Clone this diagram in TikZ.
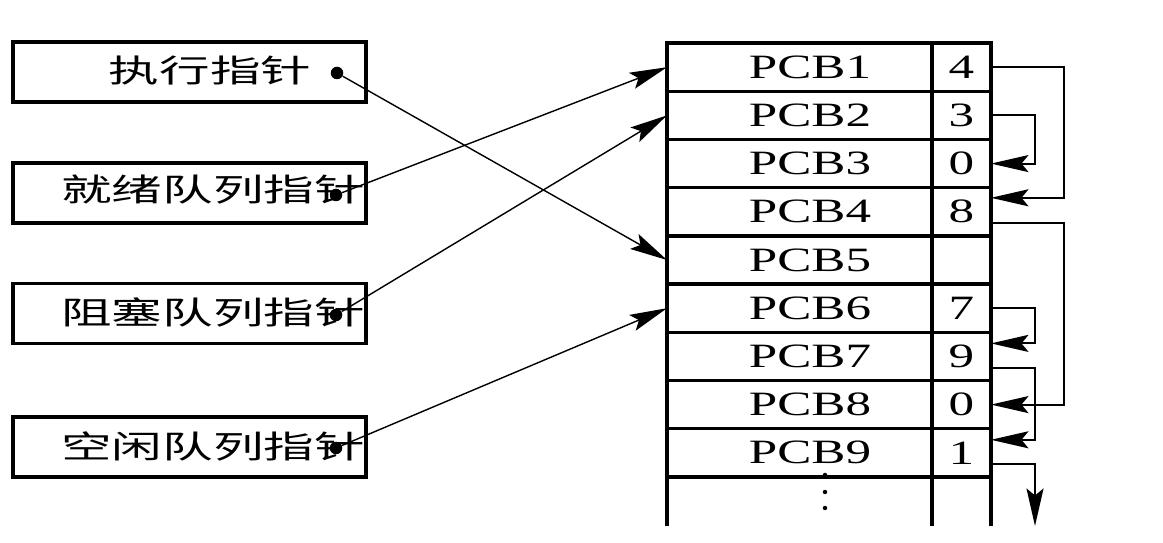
\documentclass[tikz,border=0pt]{standalone}
\usepackage{fontspec}
\newfontfamily\cjk[FakeStretch=1.6]{Noto Sans CJK SC}
\newfontfamily\pcbfont[FakeStretch=1.5]{Liberation Serif}
\usetikzlibrary{positioning,arrows.meta}
\tikzset{%
  ptrbox/.style  = {shape=rectangle, draw, line width=2pt, inner sep=0pt,%
                    minimum width=7.06cm, minimum height=1.2cm},%
  ptrtext/.style = {inner sep=0pt, font=\cjk\fontsize{18pt}{20pt}\selectfont},%
  dot/.style     = {circle, fill, inner sep=0pt, minimum size=0.25cm},%
  cell/.style    = {shape=rectangle, draw, line width=2pt, inner sep=0pt,%
                    outer sep=0pt, minimum height=0.964cm,%
                    font=\pcbfont\fontsize{19.4pt}{20pt}\selectfont},%
  pcb/.style     = {cell, minimum width=5.3cm,%
                    execute at begin node=\hspace*{0.42cm}},%
  val/.style     = {cell, minimum width=1.18cm},%
  tip/.style     = {-{Stealth[length=0.75cm, width=0.34cm, inset=0.14cm]}},%
  ptr/.style     = {tip, line width=0.8pt},%
  link/.style    = {tip, line width=1.1pt}%
}
\begin{document}
\begin{tikzpicture}[x=0.02cm, y=-0.02cm]
	\useasboundingbox (0,0) rectangle (1163,543);
	% pointer boxes
	\node [ptrtext] (t1) at (210,71) {执行指针};
	\node [ptrtext] (t2) at (213,190) {就绪队列指针};
	\node [ptrtext] (t3) at (213,312) {阻塞队列指针};
	\node [ptrtext] (t4) at (213,446) {空闲队列指针};
	\node [ptrbox] (b1) at (189.5,72) {};
	\node [ptrbox] (b2) at (189.5,193) {};
	\node [ptrbox] (b3) at (189.5,313.5) {};
	\node [ptrbox] (b4) at (189.5,447) {};
	\node [dot] (d1) at (337,73) {};
	\node [dot] (d2) at (336,195) {};
	\node [dot] (d3) at (336,315) {};
	\node [dot] (d4) at (336,448) {};
	% PCB table
	\foreach \i/\v in {1/4,2/3,3/0,4/8,5/,6/7,7/9,8/0,9/1}{
		\node [pcb] (p\i) at (799.5,{19+48.2*\i}) {PCB\i};
		\node [val, right=0pt of p\i] (v\i) {\v};
	}
	\draw [line width=2pt] (p9.south west) -- ++(0,49);
	\draw [line width=2pt] (p9.south east) -- ++(0,49);
	\draw [line width=2pt] (v9.south east) -- ++(0,49);
	\foreach \y in {475,492,508}
		\fill (825,\y) circle [radius=0.045cm];
	% pointers
	\draw [ptr] (d1) -- (p5.west);
	\draw [ptr] (d2) -- (p1.west);
	\draw [ptr] (d3) -- (p2.west);
	\draw [ptr] (d4) -- (p6.west);
	% links
	\coordinate (nxt) at (1035,526);
	\draw [link] (v1.east) -- ++(73,0) |- ([yshift=0.28cm]v4.east);
	\draw [link] (v2.east) -- ++(44,0) |- (v3.east);
	\draw [link] ([yshift=-0.22cm]v4.east) -- ++(73,0) |- (v8.east);
	\draw [link] (v6.east) -- ++(44,0) |- ([yshift=0.26cm]v7.east);
	\draw [link] ([yshift=-0.24cm]v7.east) -- ++(44,0) |- ([yshift=0.26cm]v9.east);
	\draw [link] ([yshift=-0.22cm]v9.east) -| (nxt);
\end{tikzpicture}
\end{document}
